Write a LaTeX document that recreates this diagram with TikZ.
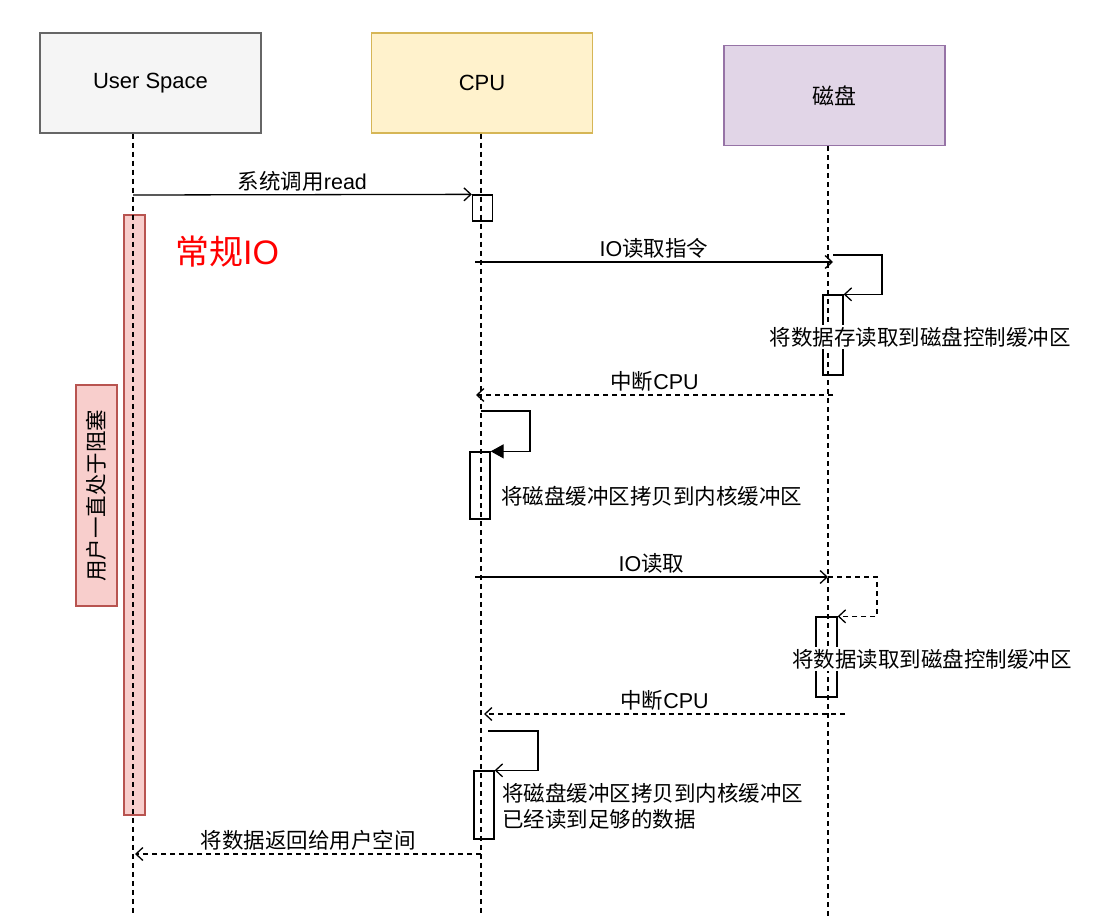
\documentclass[tikz,border=0pt]{standalone}
\usepackage{fontspec}
\setmainfont{Noto Sans CJK SC}
\newfontfamily\lat{Liberation Sans}
\usepackage{tikz}
\usetikzlibrary{arrows.meta}
\definecolor{userfill}{HTML}{F5F5F5}
\definecolor{userline}{HTML}{666666}
\definecolor{cpufill}{HTML}{FFF2CC}
\definecolor{cpuline}{HTML}{D6B656}
\definecolor{diskfill}{HTML}{E1D5E7}
\definecolor{diskline}{HTML}{9673A6}
\definecolor{blockfill}{HTML}{F8CECC}
\definecolor{blockline}{HTML}{B85450}
\tikzset{
  head/.style={draw, line width=1.5pt, minimum width=221pt, minimum height=100pt, inner sep=0pt, font=\fontsize{22}{26}\selectfont},
  life/.style={line width=1.3pt, dash pattern=on 5pt off 4pt},
  act/.style={draw, line width=1.3pt, minimum width=20pt, inner sep=0pt},
  msg/.style={line width=1.3pt, -{Straight Barb[length=7pt,width=13pt]}},
  ret/.style={msg, dash pattern=on 5pt off 4pt},
  lbl/.style={font=\fontsize{21.5}{26}\selectfont, inner sep=2pt},
}

\begin{document}
\begin{tikzpicture}[x=1pt,y=-1pt]
\useasboundingbox (0,0) rectangle (1102,917);
% heads
\node[head, fill=userfill, draw=userline] (user) at (150.5,83) {\lat User Space};
\node[head, fill=cpufill, draw=cpuline] (cpu) at (482,83) {\lat CPU};
\node[head, fill=diskfill, draw=diskline] (disk) at (834.5,95.5) {磁盘};
% blocked user
\node[draw=blockline, fill=blockfill, line width=1.3pt, minimum width=21pt, minimum height=600pt, inner sep=0pt] (block) at (134.5,515) {};
\node[draw=blockline, fill=blockfill, line width=1.3pt, rotate=90, minimum width=221pt, minimum height=41pt, inner sep=0pt, lbl] (blocked) at (96.5,495.5) {用户一直处于阻塞};
\node[text=red, font=\fontsize{34}{40}\selectfont] (title) at (227,252) {常规{\lat IO}};
% activations
\node[act, minimum height=26pt] (c1) at (482.5,208) {};
\node[act, minimum height=80pt] (d1) at (833,335) {};
\node[act, minimum height=67pt] (c2) at (480,485.5) {};
\node[act, minimum width=21pt, minimum height=80pt] (d2) at (826.5,657) {};
\node[act, minimum height=68pt] (c3) at (484,805) {};
% lifelines
\coordinate (U) at (133,917);
\coordinate (C) at (481,917);
\coordinate (D) at (828,917);
\draw[life] (user.south -| U) -- (U);
\draw[life] (cpu.south -| C) -- (C);
\draw[life] (disk.south -| D) -- (D);
% messages
\coordinate (A1) at (133,195);
\draw[msg] (A1) -- (c1.north west) node[midway, above=1pt, lbl] {系统调用{\lat read}};
\coordinate (A2) at (475,262);
\coordinate (B2) at (833,262);
\draw[msg] (A2) -- (B2) node[midway, above=1pt, lbl] {{\lat IO}读取指令};
\coordinate (L1) at (833,255);
\draw[msg] (L1) -- ++(49,0) |- (d1.north east);
\node[lbl, fill=white] (n1) at (920,337) {将数据存读取到磁盘控制缓冲区};
\coordinate (A3) at (833,395);
\coordinate (B3) at (476,395);
\draw[ret] (A3) -- (B3) node[midway, above=1pt, lbl] {中断{\lat CPU}};
\coordinate (L2) at (481,411);
\draw[line width=1.3pt, -{Triangle[length=13pt,width=14pt]}] (L2) -- ++(49,0) |- (c2.north east);
\node[lbl, anchor=west] (n2) at (499,496) {将磁盘缓冲区拷贝到内核缓冲区};
\coordinate (A4) at (475,577);
\coordinate (B4) at (828,577);
\draw[msg] (A4) -- (B4) node[midway, above=1pt, lbl] {{\lat IO}读取};
\draw[ret] (B4) -- ++(49,0) |- (d2.north east);
\node[lbl, fill=white] (n3) at (932,659) {将数据读取到磁盘控制缓冲区};
\coordinate (A5) at (845,714);
\coordinate (B5) at (484,714);
\draw[ret] (A5) -- (B5) node[midway, above=1pt, lbl] {中断{\lat CPU}};
\coordinate (L3) at (488,731);
\draw[msg] (L3) -- ++(50,0) |- (c3.north east);
\node[lbl, anchor=west, align=left] (n4) at (500,806) {将磁盘缓冲区拷贝到内核缓冲区\\已经读到足够的数据};
\coordinate (A6) at (481,854);
\coordinate (B6) at (135,854);
\draw[ret] (A6) -- (B6) node[midway, above=1pt, lbl] {将数据返回给用户空间};
\end{tikzpicture}
\end{document}
